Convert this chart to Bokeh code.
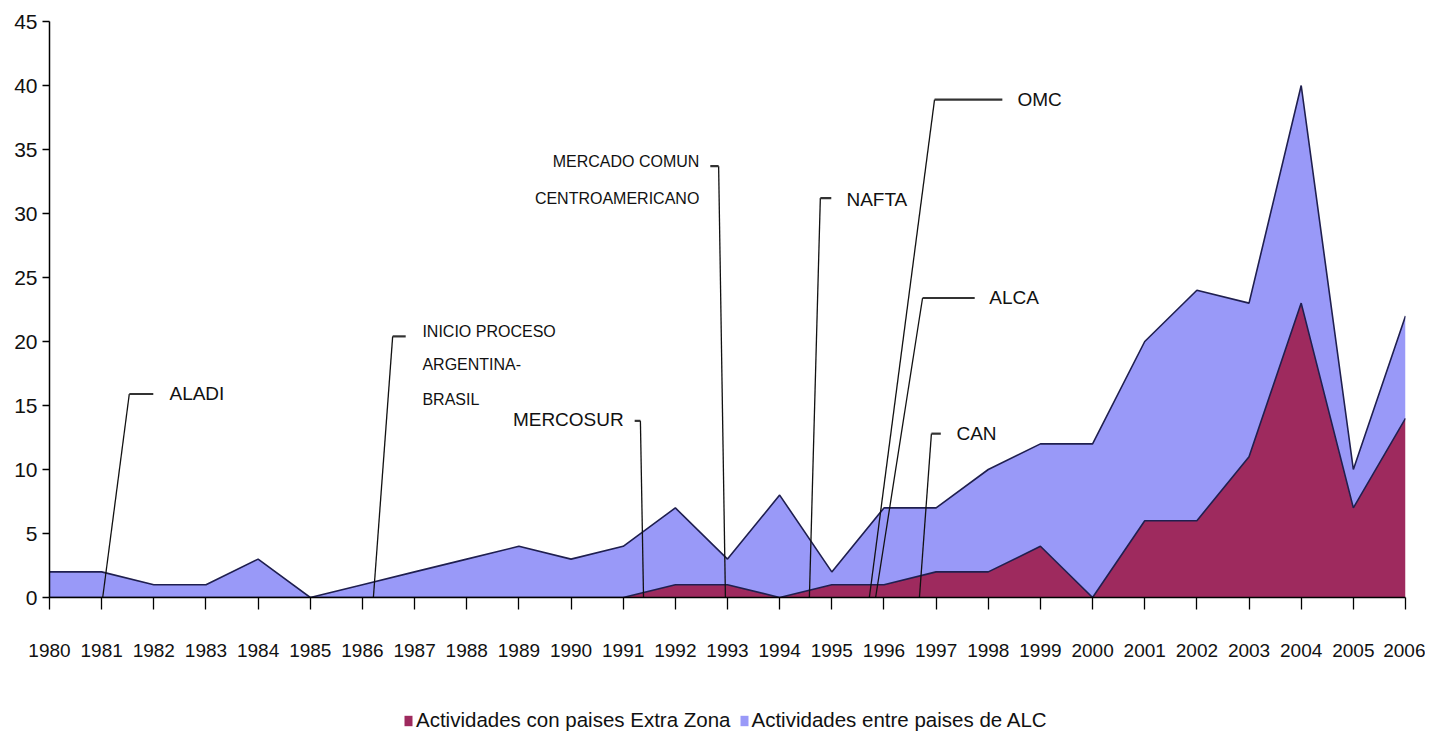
import traceback
from bokeh.plotting import figure
from bokeh.layouts import column
from bokeh.models import ColumnDataSource, Range1d, Legend, LegendItem, FixedTicker, Div
from bokeh.core.properties import value
from bokeh.transform import stack
from bokeh.embed import file_html
from bokeh.resources import INLINE

# ---- data ----
years = list(range(1980, 2007))
extra_zona = [0, 0, 0, 0, 0, 0, 0, 0, 0, 0, 0, 0, 1, 1, 0, 1, 1, 2, 2, 4, 0, 6, 6, 11, 23, 7, 14]
entre_alc = [2, 2, 1, 1, 3, 0, 1, 2, 3, 4, 3, 4, 6, 2, 8, 1, 6, 5, 8, 8, 12, 14, 18, 12, 17, 3, 8]
series_names = ["Actividades con paises Extra Zona", "Actividades entre paises de ALC"]
y_ticks = [0, 5, 10, 15, 20, 25, 30, 35, 40, 45]

# event annotations (leader line: base on axis -> elbow -> end of short horizontal)
event_names = ["ALADI", "INICIO PROCESO", "MERCOSUR", "MERCADO COMUN", "NAFTA", "OMC", "ALCA", "CAN"]
leader_base_x = [1981.02, 1986.21, 1991.39, 1992.96, 1994.57, 1995.72, 1995.84, 1996.68]
leader_top_x = [1981.53, 1986.58, 1991.33, 1992.83, 1994.78, 1996.97, 1996.74, 1996.91]
leader_top_y = [15.9, 20.4, 13.8, 33.7, 31.2, 38.9, 23.4, 12.8]
leader_end_x = [1981.99, 1986.83, 1991.22, 1992.67, 1994.99, 1998.27, 1997.74, 1997.09]

big_text = ["ALADI", "NAFTA", "OMC", "ALCA", "CAN"]
big_x = [1982.30, 1995.28, 1998.56, 1998.02, 1997.39]
big_y = [15.9, 31.1, 38.9, 23.4, 12.8]
big_r_text = ["MERCOSUR"]
big_r_x = [1991.01]
big_r_y = [13.9]
small_text = ["INICIO PROCESO", "ARGENTINA-", "BRASIL"]
small_x = [1987.15, 1987.15, 1987.15]
small_y = [20.8, 18.2, 15.5]
small_r_text = ["MERCADO COMUN", "CENTROAMERICANO"]
small_r_x = [1992.46, 1992.46]
small_r_y = [34.1, 31.2]

FONT = "Liberation Sans"
BLUE = "#9999f8"
MAROON = "#9e2a5e"
EDGE = "#1f1f4f"


def build():
    src = ColumnDataSource(dict(year=years, extra=extra_zona, alc=entre_alc))

    p = figure(width=1425, height=669, output_backend="svg", toolbar_location=None,
               x_range=Range1d(1980, 2006), y_range=Range1d(0, 45),
               min_border_left=49, min_border_right=20, min_border_top=21, min_border_bottom=72)
    p.outline_line_color = None
    p.xgrid.visible = False
    p.ygrid.visible = False

    p.varea_stack(["extra", "alc"], x="year", color=[MAROON, BLUE], source=src)
    p.line(x="year", y=stack("extra"), color=EDGE, line_width=1.6, source=src)
    p.line(x="year", y=stack("extra", "alc"), color=EDGE, line_width=1.6, source=src)

    diag = ColumnDataSource(dict(
        xs=[[b, t] for b, t in zip(leader_base_x, leader_top_x)],
        ys=[[0, ty] for ty in leader_top_y]))
    p.multi_line(xs="xs", ys="ys", source=diag, line_color="#111111", line_width=1.3)
    hor = ColumnDataSource(dict(
        xs=[[t, e] for t, e in zip(leader_top_x, leader_end_x)],
        ys=[[ty, ty] for ty in leader_top_y]))
    p.multi_line(xs="xs", ys="ys", source=hor, line_color="#333333", line_width=2.2)

    for tx, xx, yy, align, size in [(big_text, big_x, big_y, "left", "19px"),
                                    (big_r_text, big_r_x, big_r_y, "right", "19px"),
                                    (small_text, small_x, small_y, "left", "16px"),
                                    (small_r_text, small_r_x, small_r_y, "right", "16px")]:
        s = ColumnDataSource(dict(x=xx, y=yy, t=tx))
        p.text(x="x", y="y", text="t", source=s, text_align=align, text_font_size=size,
               text_baseline="middle", text_font=value(FONT), text_color="#111111")

    p.xaxis.ticker = FixedTicker(ticks=years)
    p.xaxis.minor_tick_line_color = None
    p.xaxis.major_tick_in = 0
    p.xaxis.major_tick_out = 12
    p.xaxis.axis_line_color = "black"
    p.xaxis.axis_line_width = 1.5
    p.xaxis.major_tick_line_color = "black"
    p.xaxis.major_tick_line_width = 1.3
    p.xaxis.major_label_text_font = FONT
    p.xaxis.major_label_text_font_size = "19px"
    p.xaxis.major_label_text_color = "#111111"
    p.xaxis.major_label_standoff = 34

    p.yaxis.ticker = FixedTicker(ticks=y_ticks)
    p.yaxis.minor_tick_line_color = None
    p.yaxis.major_tick_in = 0
    p.yaxis.major_tick_out = 7
    p.yaxis.axis_line_color = "black"
    p.yaxis.axis_line_width = 1.5
    p.yaxis.major_tick_line_color = "black"
    p.yaxis.major_tick_line_width = 1.3
    p.yaxis.major_label_text_font = FONT
    p.yaxis.major_label_text_font_size = "21px"
    p.yaxis.major_label_text_color = "#111111"
    p.yaxis.major_label_standoff = 5

    # legend strip below the chart (same series, drawn off-range so only the legend shows)
    lg = figure(width=1425, height=65, output_backend="svg", toolbar_location=None,
                x_range=Range1d(0, 1), y_range=Range1d(0, 1),
                min_border_left=0, min_border_right=0, min_border_top=0, min_border_bottom=0)
    lg.axis.visible = False
    lg.grid.visible = False
    lg.outline_line_color = None
    swatches = lg.varea_stack(["extra", "alc"], x="year", color=[MAROON, BLUE], source=src)
    legend = Legend(items=[LegendItem(label=series_names[0], renderers=[swatches[0]]),
                           LegendItem(label=series_names[1], renderers=[swatches[1]])],
                    orientation="horizontal", location=(354, 2),
                    label_text_font=FONT, label_text_font_size="20.5px", label_text_color="#111111",
                    glyph_width=10, glyph_height=13, label_standoff=3, spacing=8,
                    padding=0, margin=0, border_line_color=None, background_fill_alpha=0)
    lg.add_layout(legend, "center")
    return column(p, lg, spacing=0)


try:
    page = build()
except Exception:
    page = Div(text="<pre>" + traceback.format_exc() + "</pre>", width=1400, height=700)

open("out.html", "w").write(file_html(page, INLINE))
